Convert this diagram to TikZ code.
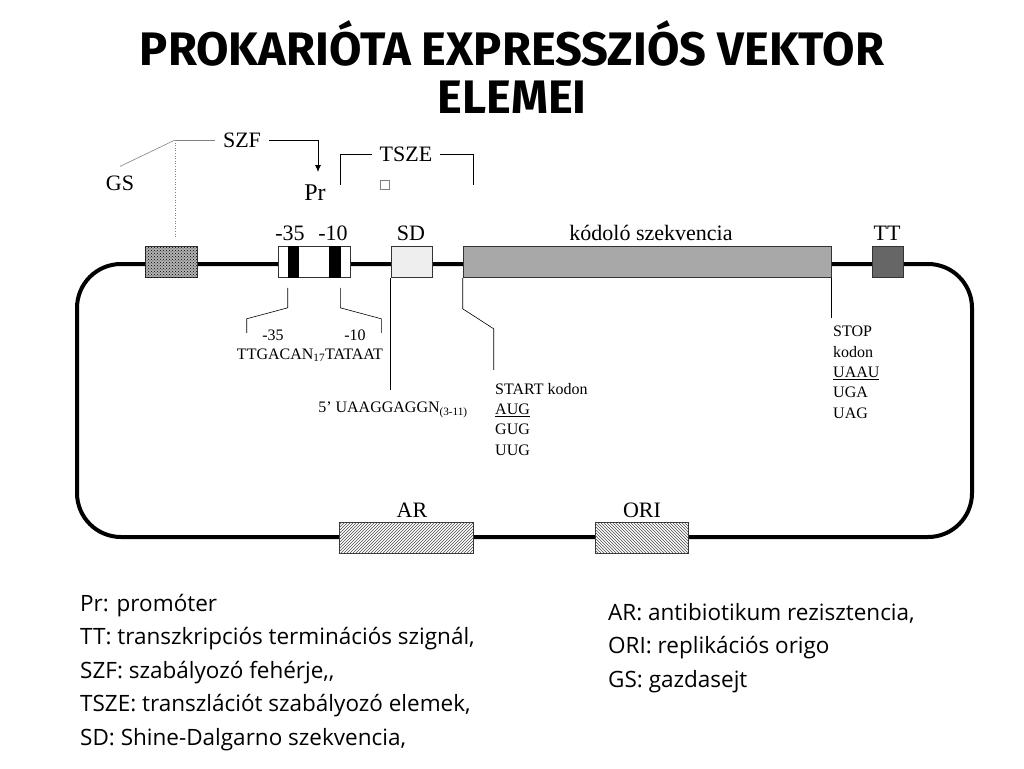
\documentclass[tikz,border=0pt]{standalone}
\usepackage{fontspec}
\setmainfont{Liberation Serif}
\newfontfamily\comicfont{Open Sans}
\newfontfamily\titlefont{Fira Sans}
\usetikzlibrary{arrows.meta,patterns,calc}
\definecolor{sdgray}{HTML}{EEEEEE}
\definecolor{cdsgray}{HTML}{A8A8A8}
\definecolor{ttgray}{HTML}{666666}

\begin{document}
\begin{tikzpicture}[x=1pt,y=-1pt,
  elem/.style={draw=black!80,line width=0.6pt,inner sep=0pt,minimum height=31pt},
  lbl/.style={font=\fontsize{22}{26}\selectfont,inner sep=1pt},
  small/.style={font=\fontsize{16}{20}\selectfont,inner sep=0pt},
  codons/.style={small,anchor=north west,align=left,font=\fontsize{16}{20.3}\selectfont},
  legend/.style={font=\comicfont\fontsize{22.5}{33.5}\selectfont,align=left,anchor=north west,inner sep=0pt},
  backbone/.style={line width=4pt,rounded corners=44pt},
  pointer/.style={line width=0.6pt},
  arrow/.style={-{Latex[length=7pt,width=6pt]},line width=0.8pt}
]
\useasboundingbox (0,0) rectangle (1024,768);
\node[font=\titlefont\bfseries\fontsize{47}{48}\selectfont,align=center] (title) at (512,67) {PROKARIÓTA EXPRESSZIÓS VEKTOR\\ELEMEI};
\draw[backbone] (77,264) rectangle (972,537);
\node[elem,minimum width=52pt,fill=gray!60,postaction={pattern=crosshatch dots,pattern color=black}] (gsbox) at (171,262) {};
\node[elem,minimum width=72pt,fill=white] (prom) at (314,262) {};
\fill ($(prom.south west)+(10,0)$) rectangle ($(prom.north west)+(21,0)$);
\fill ($(prom.south east)+(-21,0)$) rectangle ($(prom.north east)+(-9,0)$);
\node[elem,minimum width=41pt,fill=sdgray] (sd) at (411.5,262) {};
\node[elem,minimum width=368pt,fill=cdsgray] (cds) at (647,262) {};
\node[elem,minimum width=31pt,fill=ttgray] (tt) at (887.5,262) {};
\node[elem,minimum width=134pt,fill=white,postaction={pattern=north east lines,pattern color=black!70}] (ar) at (406,538) {};
\node[elem,minimum width=93pt,fill=white,postaction={pattern=north west lines,pattern color=black!70}] (ori) at (641.5,538) {};
\node[lbl] (m35) at (290,233) {-35};
\node[lbl] (m10) at (333,233) {-10};
\node[lbl] (sdlbl) at (411,233) {SD};
\node[lbl] (cdslbl) at (651,233) {kódoló szekvencia};
\node[lbl] (ttlbl) at (887,233) {TT};
\node[lbl] (arlbl) at (412,510) {AR};
\node[lbl] (orilbl) at (642,510) {ORI};
\node[lbl] (gs) at (120,183) {GS};
\node[lbl,inner xsep=8pt] (szf) at (242,140) {SZF};
\node[lbl,font=\fontsize{24}{28}\selectfont] (pr) at (315,193) {Pr};
\node[lbl,inner xsep=8pt] (tsze) at (406,154) {TSZE};
\node[draw=gray,line width=0.5pt,minimum size=9pt,inner sep=0pt] (glyph) at (385,185) {};
\coordinate (gsknee) at (175,140);
\coordinate (prtip) at (318,172);
\coordinate (tszel) at (340,185);
\coordinate (tszer) at (473,185);
\draw[pointer,gray] ([yshift=8pt]gs.north) -- (gsknee);
\draw[pointer,gray,dotted] (gsknee) -- ($(gsbox.north)+(4,-9)$);
\draw[pointer,gray] (gsknee) -- (szf.west);
\draw[arrow] (szf.east) -| (prtip);
\draw[pointer] (tsze.west) -| (tszel);
\draw[pointer] (tsze.east) -| (tszer);
\draw[pointer] ($(prom.south west)+(10,10)$) -- ++(0,20) -- ++(-41,11) -- ++(0,14);
\draw[pointer] ($(prom.south east)+(-10,10)$) -- ++(0,20) -- ++(41,11) -- ++(0,14);
\draw[pointer] (sd.south west) -- ++(0,112);
\draw[pointer] (cds.south west) -- ++(0,31) -- ++(31,20) -- ++(0,41);
\draw[pointer] (cds.south east) -- ++(0,40);
\node[small] (m35b) at (273,335) {-35};
\node[small] (m10b) at (355,335) {-10};
\node[small] (pseq) at (310,355) {TTGACAN\textsubscript{17}TATAAT};
\node[small] (sdseq) at (393,410) {5’ UAAGGAGGN\textsubscript{(3-11)}};
\node[codons] (start) at (495,383) {START kodon\\\underline{AUG}\\GUG\\UUG};
\node[codons] (stop) at (833,326) {STOP\\kodon\\\underline{UAAU}\\UGA\\UAG};
\node[legend] (legl) at (80,594) {Pr: promóter\\TT: transzkripciós terminációs szignál,\\SZF: szabályozó fehérje,,\\TSZE: transzlációt szabályozó elemek,\\SD: Shine-Dalgarno szekvencia,};
\node[legend] (legr) at (608,603) {AR: antibiotikum rezisztencia,\\ORI: replikációs origo\\GS: gazdasejt};
\end{tikzpicture}
\end{document}
